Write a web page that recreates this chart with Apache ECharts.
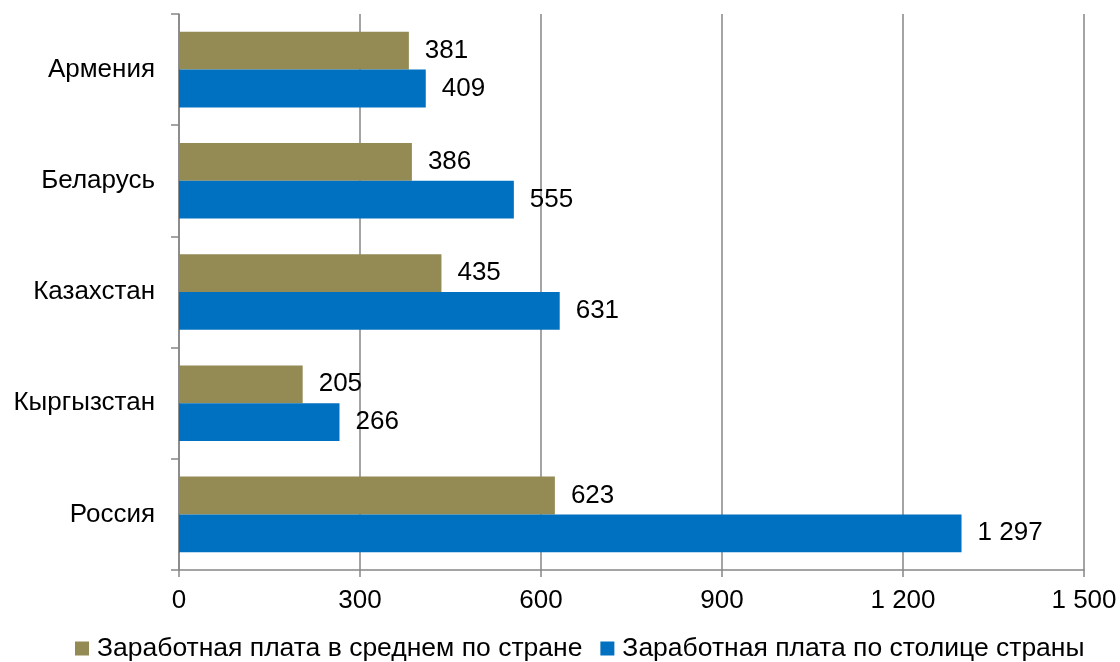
<!DOCTYPE html>
<html><head><meta charset="utf-8">
<script src="https://cdn.jsdelivr.net/npm/echarts@6/dist/echarts.min.js"></script>
<style>html,body{margin:0;padding:0;background:#fff}#c{width:1120px;height:662px}</style>
</head><body><div id="c"></div>
<script>
const categories = ['Армения', 'Беларусь', 'Казахстан', 'Кыргызстан', 'Россия'];
const seriesNames = ['Заработная плата в среднем по стране', 'Заработная плата по столице страны'];
const avgCountry = [381, 386, 435, 205, 623];
const avgCapital = [409, 555, 631, 266, 1297];
const colors = ['#948A54', '#0070C0'];

const fmt = v => String(v).replace(/\B(?=(\d{3})+(?!\d))/g, ' ');
const font = '"Liberation Sans", Arial, sans-serif';
const FS = 26;
const chart = echarts.init(document.getElementById('c'));
const mk = (name, data, color) => ({
  name, type: 'bar', data, barCategoryGap: '32%', barGap: '0%',
  itemStyle: { color },
  label: { show: true, position: 'right', distance: 16, color: '#000', fontSize: FS, fontFamily: font, formatter: p => fmt(p.value) }
});
chart.setOption({
  animation: false,
  textStyle: { fontFamily: font },
  grid: { left: 179, right: 36, top: 14, bottom: 92 },
  legend: {
    top: 630, left: 70, itemWidth: 14, itemHeight: 14, itemGap: 18, icon: 'rect',
    textStyle: { fontSize: 26.5, color: '#000', fontFamily: font, padding: [0, 0, 0, 3] },
    data: seriesNames
  },
  xAxis: {
    type: 'value', min: 0, max: 1500, interval: 300,
    axisLine: { show: true, lineStyle: { color: '#868686', width: 1.5 } },
    axisTick: { show: true, length: 7, lineStyle: { color: '#868686', width: 1.5 } },
    splitLine: { show: true, lineStyle: { color: '#868686', width: 1.5 } },
    axisLabel: { fontSize: FS, color: '#000', margin: 18, formatter: v => fmt(v) }
  },
  yAxis: {
    type: 'category', data: categories, inverse: true,
    axisLine: { show: true, lineStyle: { color: '#868686', width: 1.5 } },
    axisTick: { show: true, length: 8, lineStyle: { color: '#868686', width: 1.5 } },
    axisLabel: { fontSize: FS, color: '#000', margin: 24 }
  },
  series: [mk(seriesNames[0], avgCountry, colors[0]), mk(seriesNames[1], avgCapital, colors[1])]
});
</script></body></html>
